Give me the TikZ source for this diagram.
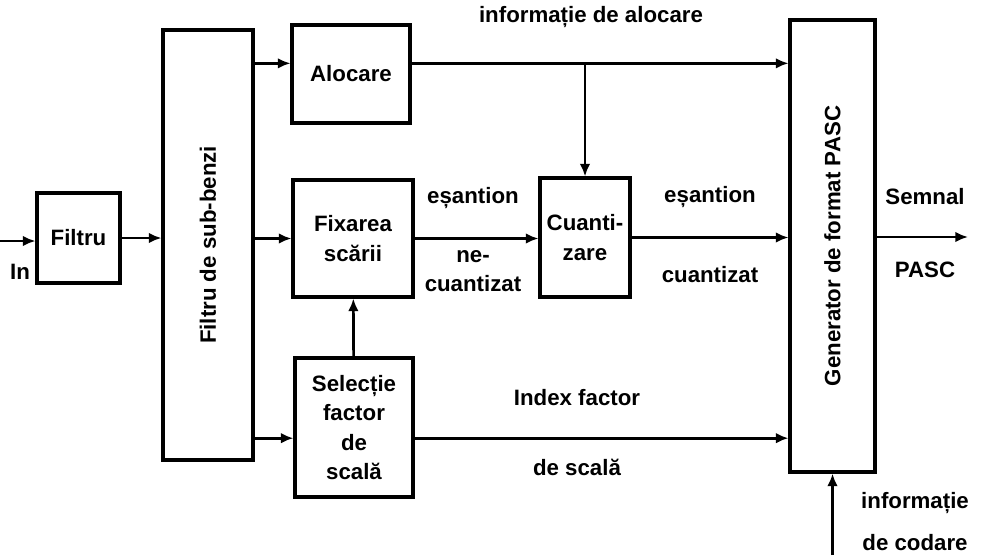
\documentclass[tikz,border=0pt]{standalone}
\usepackage{fontspec}
\setmainfont{Liberation Sans}
\usepackage{graphicx}
\usetikzlibrary{positioning,arrows.meta}

\begin{document}
\begin{tikzpicture}[x=0.03cm, y=-0.03cm, >={Latex[length=3.8mm,width=3.2mm]},
  font=\fontsize{19}{25}\selectfont\bfseries,
  block/.style={draw, line width=2.6pt, inner sep=0pt, align=center},
  lbl/.style={inner sep=0pt, align=center},
  conn/.style={line width=2.3pt}]
\useasboundingbox (0,0) rectangle (990,558);

% blocks
\node[block, minimum width=2.49cm, minimum height=2.7cm] (filtru) at (78.5,238) {Filtru};
\node[block, minimum width=2.7cm, minimum height=12.9cm] (subb) at (208,245) {\rotatebox{90}{Filtru de sub-benzi}};
\node[block, minimum width=3.54cm, minimum height=2.94cm] (aloc) at (351,74) {Alocare};
\node[block, minimum width=3.6cm, minimum height=3.51cm] (fix) at (353,238.5) {Fixarea\\scării};
\node[block, minimum width=3.54cm, minimum height=4.17cm] (sel) at (354,427.5) {Selecție\\factor\\de\\scală};
\node[block, minimum width=2.7cm, minimum height=3.57cm] (cuant) at (585,237.5) {Cuanti-\\zare};
\node[block, minimum width=2.55cm, minimum height=13.56cm] (gen) at (832.5,246) {\rotatebox{90}{Generator de format PASC}};

\coordinate (in) at (0,241);
\coordinate (out) at (968,237);
\coordinate (cod) at (832.5,555);
\coordinate (ram) at (cuant.north |- aloc.10);

% connectors
\path[->, conn]
    (in) edge (in -| filtru.west)
    (filtru.east) edge (filtru.east -| subb.west)
    (subb.east |- aloc.170) edge (aloc.170)
    (subb.east |- fix.west) edge (fix.west)
    (subb.east |- sel.190) edge (sel.190)
    (sel) edge (fix)
    (fix.east) edge (fix.east -| cuant.west)
    (ram) edge (cuant.north)
    (cuant.east) edge (cuant.east -| gen.west)
    (sel.-10) edge (sel.-10 -| gen.west)
    (gen.east |- out) edge (out)
    (cod) edge (gen.south);
\draw[->, conn] (aloc.10) -- (aloc.10 -| gen.west);

% labels
\node[lbl] (tin) at (20,272) {In};
\node[lbl] (tinfa) at (591,17) {informație de alocare};
\node[lbl] (tes1) at (473,198) {eșantion};
\node[lbl] (tne) at (473,271) {ne-\\cuantizat};
\node[lbl] (tes2) at (710,197) {eșantion};
\node[lbl] (tcu) at (710,275) {cuantizat};
\node[lbl] (tidx) at (577,398) {Index factor};
\node[lbl] (tsc) at (577,467) {de scală};
\node[lbl] (tsem) at (925,197) {Semnal};
\node[lbl] (tpasc) at (925,270) {PASC};
\node[lbl] (tinfc) at (915,503) {informație};
\node[lbl] (tcod) at (915,543) {de codare};
\end{tikzpicture}
\end{document}
